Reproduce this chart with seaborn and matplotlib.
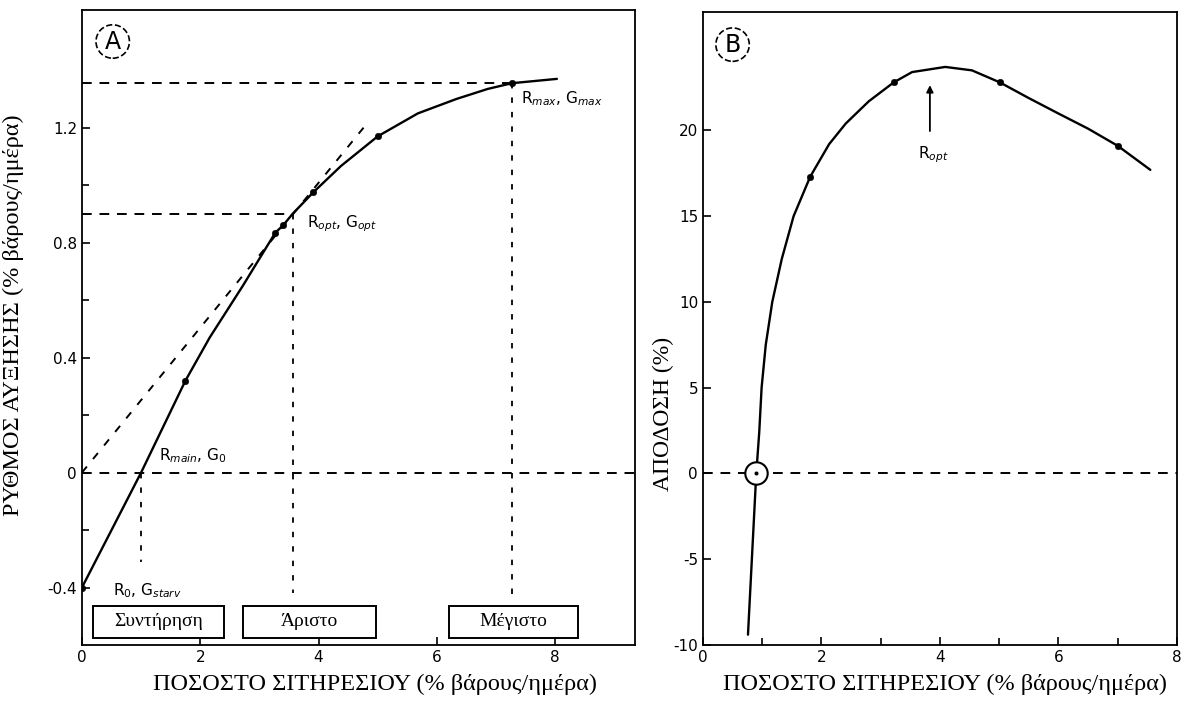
import matplotlib
matplotlib.use("Agg")
import matplotlib.pyplot as plt
import seaborn as sns
from matplotlib.patches import Rectangle
from matplotlib.ticker import MultipleLocator, FixedLocator

# ---------------- data ----------------
# Panel A: growth rate vs feeding rate
growth_x = [0.0, 1.0, 1.75, 2.16, 2.72, 3.27, 3.40, 3.56, 3.91, 4.38, 5.0, 5.68, 6.33, 6.86, 7.27, 8.03]
growth_y = [-0.40, 0.0, 0.32, 0.47, 0.65, 0.835, 0.86, 0.90, 0.975, 1.067, 1.17, 1.25, 1.30, 1.335, 1.355, 1.37]
growth_dot_x = [0.0, 1.75, 3.27, 3.40, 3.91, 5.0, 7.27]
growth_dot_y = [-0.40, 0.32, 0.835, 0.86, 0.975, 1.17, 1.355]
tangent_x = [0.0, 4.8]
tangent_y = [0.0, 1.21]
r_main, r_opt, r_max = 1.0, 3.56, 7.27
g_opt, g_max = 0.90, 1.355
box_labels = ["Συντήρηση", "Άριστο", "Μέγιστο"]

# Panel B: yield (efficiency) vs feeding rate
yield_x = [0.76, 0.90, 0.95, 0.99, 1.06, 1.17, 1.33, 1.53, 1.81, 2.13, 2.41, 2.80, 3.22,
           3.53, 4.09, 4.54, 5.01, 5.49, 5.99, 6.50, 7.0, 7.55]
yield_y = [-9.4, 0.0, 2.4, 5.0, 7.5, 10.0, 12.5, 15.0, 17.3, 19.2, 20.4, 21.7, 22.8,
           23.4, 23.7, 23.5, 22.8, 21.9, 21.0, 20.1, 19.1, 17.7]
yield_dot_x = [1.81, 3.22, 5.01, 7.0]
yield_dot_y = [17.3, 22.8, 22.8, 19.1]
yield_zero_x = [0.90]
yield_zero_y = [0.0]
r_opt_b = 3.83

xticks = [0, 2, 4, 6, 8]
a_yticks = [-0.4, 0.0, 0.4, 0.8, 1.2]
a_yticklabels = ["-0.4", "0", "0.4", "0.8", "1.2"]
a_yminor = [-0.2, 0.2, 0.6, 1.0]
b_yticks = [-10, -5, 0, 5, 10, 15, 20]

xlabel = "ΠΟΣΟΣΤΟ ΣΙΤΗΡΕΣΙΟΥ (% βάρους/ημέρα)"
a_ylabel = "ΡΥΘΜΟΣ ΑΥΞΗΣΗΣ (% βάρους/ημέρα)"
b_ylabel = "ΑΠΟΔΟΣΗ (%)"

# ---------------- style ----------------
sns.set_style("ticks")
plt.rcParams["font.family"] = ["DejaVu Sans"]
SERIF = ["Liberation Serif", "DejaVu Serif"]

fig = plt.figure(figsize=(11.86, 7.08), dpi=100)
axA = fig.add_axes([0.0691, 0.089, 0.4663, 0.897])
axB = fig.add_axes([0.5927, 0.089, 0.3997, 0.894])

K = "black"
for ax in (axA, axB):
    for s in ax.spines.values():
        s.set_color(K)
        s.set_linewidth(1.3)
    ax.tick_params(direction="in", which="both", colors=K, labelsize=11,
                   length=6, width=1.2, top=False, right=False)
    ax.tick_params(which="minor", length=5)

# ---------------- Panel A ----------------
ax = axA
sns.lineplot(x=growth_x, y=growth_y, ax=ax, color=K, lw=1.7, sort=False, estimator=None)
sns.lineplot(x=tangent_x, y=tangent_y, ax=ax, color=K, lw=1.4, sort=False, estimator=None,
             linestyle=(0, (4, 5)))
sns.scatterplot(x=growth_dot_x, y=growth_dot_y, ax=ax, color=K, s=22, edgecolor=K, zorder=5)

dash = (0, (5, 4))
dot = (0, (3, 5))
ax.plot([0, r_max], [g_max, g_max], color=K, lw=1.4, ls=dash)
ax.plot([0, r_opt], [g_opt, g_opt], color=K, lw=1.4, ls=dash)
ax.axhline(0, color=K, lw=1.4, ls=dash)
ax.plot([r_main, r_main], [0, -0.31], color=K, lw=1.3, ls=dot)
ax.plot([r_opt, r_opt], [g_opt, -0.42], color=K, lw=1.3, ls=dot)
ax.plot([r_max, r_max], [g_max, -0.44], color=K, lw=1.3, ls=dot)

ax.set_xlim(0, 9.35)
ax.set_ylim(-0.6, 1.61)
ax.xaxis.set_major_locator(FixedLocator(xticks))
ax.set_xticklabels([str(t) for t in xticks])
ax.yaxis.set_major_locator(FixedLocator(a_yticks))
ax.set_yticklabels(a_yticklabels)
ax.yaxis.set_minor_locator(FixedLocator(a_yminor))

# annotation boxes
box_x = [(0.18, 2.41), (2.73, 4.97), (6.20, 8.39)]
for (x0, x1), lab in zip(box_x, box_labels):
    ax.add_patch(Rectangle((x0, -0.574), x1 - x0, 0.11, fill=False, ec=K, lw=1.4, zorder=4))
    ax.text((x0 + x1) / 2, -0.519, lab, ha="center", va="center", fontsize=14,
            family=SERIF, color=K)

ax.text(7.42, 1.30, r"R$_{max}$, G$_{max}$", fontsize=11, va="center", color=K)
ax.text(3.80, 0.865, r"R$_{opt}$, G$_{opt}$", fontsize=11, va="center", color=K)
ax.text(1.30, 0.06, r"R$_{main}$, G$_{0}$", fontsize=11, va="center", color=K)
ax.text(0.52, -0.41, r"R$_{0}$, G$_{starv}$", fontsize=11, va="center", color=K)
ax.text(0.52, 1.50, "A", fontsize=17, ha="center", va="center", color=K,
        bbox=dict(boxstyle="circle,pad=0.2", fc="white", ec=K, ls="--", lw=1.2))

ax.set_xlabel(xlabel, fontsize=17.5, family=SERIF, color=K)
ax.set_ylabel(a_ylabel, fontsize=17.5, family=SERIF, color=K)
ax.xaxis.set_label_coords(0.53, -0.045)
ax.yaxis.set_label_coords(-0.105, 0.52)

# ---------------- Panel B ----------------
ax = axB
sns.lineplot(x=yield_x, y=yield_y, ax=ax, color=K, lw=1.7, sort=False, estimator=None)
sns.scatterplot(x=yield_dot_x, y=yield_dot_y, ax=ax, color=K, s=22, edgecolor=K, zorder=5)
ax.axhline(0, color=K, lw=1.4, ls=dash)
sns.scatterplot(x=yield_zero_x, y=yield_zero_y, ax=ax, s=260, facecolor="white",
                edgecolor=K, linewidth=1.5, zorder=6)
sns.scatterplot(x=yield_zero_x, y=yield_zero_y, ax=ax, s=10, color=K, zorder=7)

ax.annotate("", xy=(r_opt_b, 22.8), xytext=(r_opt_b, 19.8),
            arrowprops=dict(arrowstyle="-|>", color=K, lw=1.3, mutation_scale=10))
ax.text(r_opt_b + 0.05, 18.6, r"R$_{opt}$", fontsize=11, ha="center", va="center", color=K)
ax.text(0.5, 25.0, "B", fontsize=17, ha="center", va="center", color=K,
        bbox=dict(boxstyle="circle,pad=0.2", fc="white", ec=K, ls="--", lw=1.2))

ax.set_xlim(0, 8)
ax.set_ylim(-10, 26.9)
ax.xaxis.set_major_locator(FixedLocator(xticks))
ax.set_xticklabels([str(t) for t in xticks])
ax.xaxis.set_minor_locator(MultipleLocator(1))
ax.yaxis.set_major_locator(FixedLocator(b_yticks))
ax.set_yticklabels([str(t) for t in b_yticks])

ax.set_xlabel(xlabel, fontsize=17.5, family=SERIF, color=K)
ax.set_ylabel(b_ylabel, fontsize=17, family=SERIF, color=K)
ax.xaxis.set_label_coords(0.51, -0.045)
ax.yaxis.set_label_coords(-0.06, 0.365)

fig.savefig("out.png", dpi=100, facecolor="white")
